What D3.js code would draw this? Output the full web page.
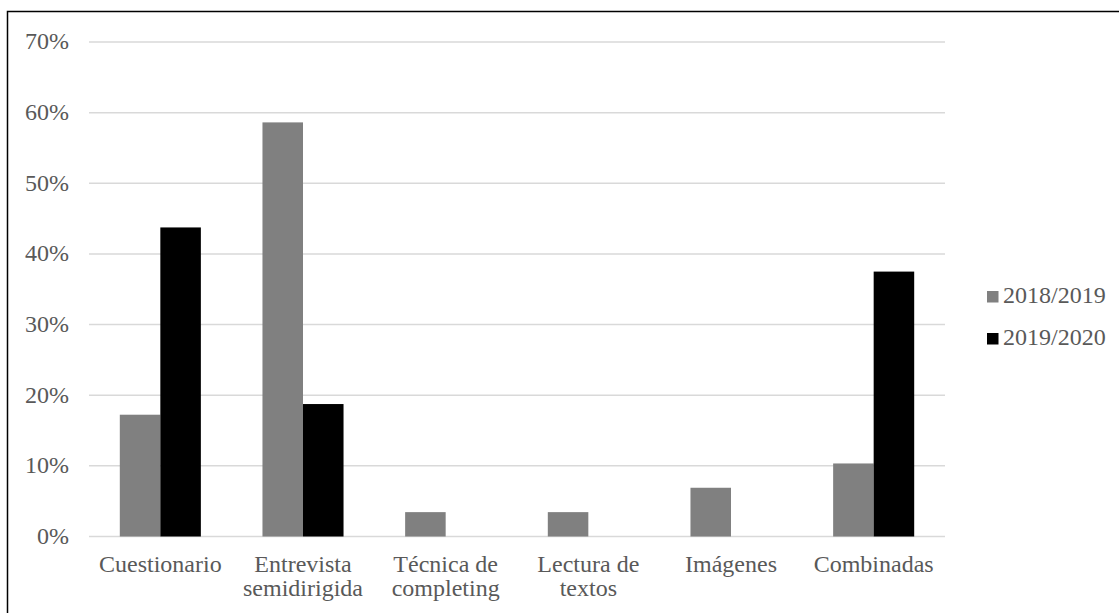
<!DOCTYPE html>
<html>
<head>
<meta charset="utf-8">
<script src="https://cdn.jsdelivr.net/npm/d3@7"></script>
<style>
  body { margin: 0; background: #fff; }
  svg { display: block; }
</style>
</head>
<body>
<script>
// categories (x axis), with line breaks as in the original
var categories = ["Cuestionario", "Entrevista\nsemidirigida", "Técnica de\ncompleting", "Lectura de\ntextos", "Imágenes", "Combinadas"];
var seriesNames = ["2018/2019", "2019/2020"];
var values1819 = [0.1724, 0.5862, 0.0345, 0.0345, 0.0690, 0.1034];
var values1920 = [0.4375, 0.1875, 0, 0, 0, 0.375];
var yTicks = [0, 0.1, 0.2, 0.3, 0.4, 0.5, 0.6, 0.7];
var colors = ["#808080", "#000000"];

var FONT = '"Liberation Serif", "Times New Roman", serif';
var width = 1119, height = 613;
var margin = { top: 42, left: 89, right: 174, bottom: 76.5 };

function serif(sel) {
    sel.style("font-family", FONT, "important")
        .style("font-size", "24px", "important")
        .style("fill", "#595959");
}

var svg = d3.select("body").append("svg")
    .attr("width", width)
    .attr("height", height);

// outer frame (cropped at right and bottom in the original)
svg.append("rect")
    .attr("x", 7.5).attr("y", 11.5)
    .attr("width", width + 10).attr("height", height + 10)
    .attr("fill", "none")
    .attr("stroke", "#000")
    .attr("stroke-width", 1.5);

var x = d3.scaleBand()
    .domain(categories)
    .range([margin.left, width - margin.right]);

var x1 = d3.scaleBand()
    .domain(seriesNames)
    .range([0, x.bandwidth()])
    .paddingInner(0)
    .paddingOuter(0.76);

var y = d3.scaleLinear()
    .domain([0, 0.7])
    .range([height - margin.bottom, margin.top]);

// gridlines
svg.append("g")
    .selectAll("line")
    .data(yTicks)
    .join("line")
    .attr("x1", margin.left)
    .attr("x2", width - margin.right)
    .attr("y1", d => y(d))
    .attr("y2", d => y(d))
    .attr("stroke", "#d9d9d9")
    .attr("stroke-width", 1.5);

// y axis labels
var yAxis = d3.axisLeft(y).tickValues(yTicks).tickFormat(d3.format(".0%")).tickSize(0).tickPadding(20);
var gy = svg.append("g")
    .attr("transform", `translate(${margin.left},0)`)
    .call(yAxis);
gy.select(".domain").remove();
gy.selectAll("text")
    .attr("dy", "0.29em")
    .call(serif);

// bars
var series = [values1819, values1920];
var groups = svg.append("g")
    .selectAll("g")
    .data(seriesNames)
    .join("g")
    .attr("fill", (d, i) => colors[i]);

groups.selectAll("rect")
    .data((s, i) => series[i].map((v, j) => ({ cat: categories[j], s: s, v: v })))
    .join("rect")
    .filter(d => d.v > 0)
    .attr("x", d => x(d.cat) + x1(d.s))
    .attr("width", x1.bandwidth())
    .attr("y", d => y(d.v))
    .attr("height", d => y(0) - y(d.v));

// category labels
var labels = svg.append("g")
    .selectAll("text")
    .data(categories)
    .join("text")
    .attr("text-anchor", "middle")
    .attr("transform", d => `translate(${x(d) + x.bandwidth() / 2},${y(0) + 35})`)
    .call(serif);

labels.selectAll("tspan")
    .data(d => d.split("\n"))
    .join("tspan")
    .attr("x", 0)
    .attr("y", (d, i) => i * 24)
    .text(d => d);

// legend
var legend = svg.append("g")
    .attr("transform", "translate(987,291)")
    .selectAll("g")
    .data(seriesNames)
    .join("g")
    .attr("transform", (d, i) => `translate(0,${i * 42})`);

legend.append("rect")
    .attr("width", 11.5)
    .attr("height", 11.5)
    .attr("fill", (d, i) => colors[i]);

legend.append("text")
    .attr("x", 16)
    .attr("y", 12)
    .call(serif)
    .text(d => d);
</script>
</body>
</html>
